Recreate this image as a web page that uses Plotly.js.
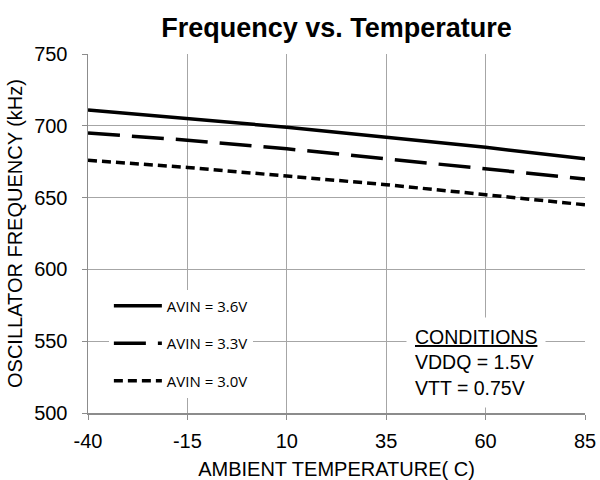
<!DOCTYPE html>
<html><head><meta charset="utf-8">
<script src="https://cdn.plot.ly/plotly-3.0.1.min.js"></script>
<style>html,body{margin:0;padding:0;background:#fff}#chart{width:600px;height:480px}</style>
</head><body><div id="chart"></div>
<script>
const temperature = [-40, -15, 10, 35, 60, 85];
const avin36 = [711, 705, 699, 692, 685, 677];
const avin33 = [695, 690, 684, 677, 670, 663];
const avin30 = [676, 671, 665, 659, 652, 645];
const seriesNames = ['AVIN = 3.6V', 'AVIN = 3.3V', 'AVIN = 3.0V'];
const xTicks = [-40, -15, 10, 35, 60, 85];
const yTicks = [500, 550, 600, 650, 700, 750];

const mk = (y, name, dash, g) => ({
  x: temperature, y: y, name: name, type: 'scatter', mode: 'lines',
  legendgroup: g,
  line: {color: '#000', width: 3.5, dash: dash}
});
const data = [
  mk(avin36, seriesNames[0], 'solid', 'a'),
  mk(avin33, seriesNames[1], '32px,12px', 'b'),
  mk(avin30, seriesNames[2], '9px,5px', 'c')
];
const FONT = 'Liberation Sans, Arial, sans-serif';
const axisCommon = {
  showgrid: true, gridcolor: '#a6a6a6', gridwidth: 1,
  showline: true, linecolor: '#8c8c8c', linewidth: 1.5,
  ticks: 'outside', ticklen: 5, tickcolor: '#8c8c8c',
  tickfont: {family: FONT, size: 20, color: '#000'},
  zeroline: false, mirror: false
};
const layout = {
  width: 600, height: 480,
  margin: {l: 88, r: 15, t: 54, b: 67},
  paper_bgcolor: '#fff', plot_bgcolor: '#fff',
  title: {text: '<b>Frequency vs. Temperature</b>', x: 0.5, xref: 'paper', xanchor: 'center',
          y: 0.9417, yref: 'container', yanchor: 'middle',
          font: {family: FONT, size: 27, color: '#000'}},
  xaxis: Object.assign({}, axisCommon, {
    range: [-40, 85], tickvals: xTicks, ticktext: xTicks.map(String),
    ticklabelstandoff: 4,
    title: {text: 'AMBIENT TEMPERATURE( C)', standoff: 11,
            font: {family: FONT, size: 20, color: '#000'}}
  }),
  yaxis: Object.assign({}, axisCommon, {
    range: [500, 750], tickvals: yTicks, ticktext: yTicks.map(String),
    ticklabelstandoff: 10,
    title: {text: 'OSCILLATOR FREQUENCY (kHz)', standoff: 6,
            font: {family: FONT, size: 20, color: '#000'}}
  }),
  showlegend: true,
  legend: {
    x: 0.042, y: 0.043, xanchor: 'left', yanchor: 'bottom',
    bgcolor: '#fff', borderwidth: 0, tracegroupgap: 15,
    font: {family: 'Open Sans, Noto Sans, sans-serif', size: 15, color: '#000'},
    itemwidth: 48
  },
  annotations: [{
    xref: 'paper', yref: 'paper', x: 0.64, y: 0.14, xanchor: 'left', yanchor: 'middle',
    align: 'left', showarrow: false, bgcolor: '#fff', borderpad: 8,
    text: '<span style="text-decoration:underline">CONDITIONS</span><br>VDDQ = 1.5V<br>VTT = 0.75V',
    font: {family: FONT, size: 19.5, color: '#000'}
  }]
};
Plotly.newPlot('chart', data, layout, {displayModeBar: false, staticPlot: true});
</script></body></html>
